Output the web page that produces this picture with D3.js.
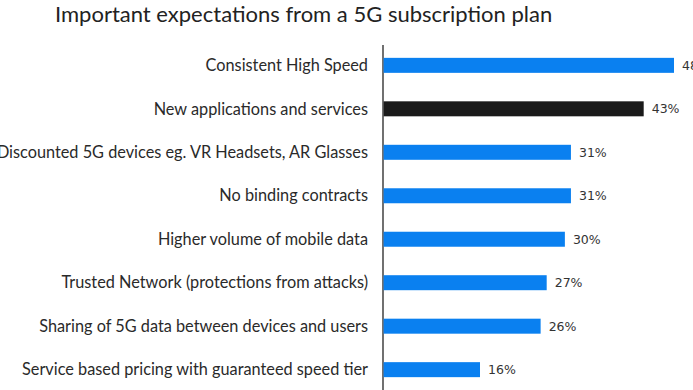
<!DOCTYPE html>
<html><head><meta charset="utf-8">
<script src="https://cdn.jsdelivr.net/npm/d3@7"></script>
<style>body{margin:0;background:#fff;overflow:hidden}</style>
</head><body><svg id="c" width="693" height="390"></svg>
<script>
const categories = ["Consistent High Speed","New applications and services","Discounted 5G devices eg. VR Headsets, AR Glasses","No binding contracts","Higher volume of mobile data","Trusted Network (protections from attacks)","Sharing of 5G data between devices and users","Service based pricing with guaranteed speed tier"];
const values = [48,43,31,31,30,27,26,16];
const highlight = [false,true,false,false,false,false,false,false];
const title = "Important expectations from a 5G subscription plan";

const svg = d3.select("#c");
const x0 = 383;
const x = d3.scaleLinear().domain([0,48]).range([x0,674]);
const y = d3.scaleBand().domain(categories).range([43.5,391.5]).paddingInner(0.655).paddingOuter(0.33);

svg.append("text").attr("x",55).attr("y",21.5).attr("font-family","Lato").attr("font-weight",400)
  .attr("font-size",22).attr("fill","#222").text(title);

svg.append("line").attr("x1",x0).attr("x2",x0).attr("y1",45).attr("y2",390).attr("stroke","#111").attr("stroke-width",1.2);

svg.selectAll("rect.bar").data(categories).enter().append("rect").attr("class","bar")
  .attr("x",x0+0.6).attr("y",d=>y(d)).attr("height",y.bandwidth())
  .attr("width",(d,i)=>x(values[i])-x0-0.6)
  .attr("fill",(d,i)=>highlight[i]?"#1a1a1a":"#0a80f0");

svg.selectAll("text.cat").data(categories).enter().append("text").attr("class","cat")
  .attr("x",368).attr("y",d=>y(d)+y.bandwidth()/2).attr("dy","0.35em").attr("text-anchor","end")
  .attr("font-family","Lato").attr("font-size",16.3).attr("fill","#2a2a2a").text(d=>d);

svg.selectAll("text.val").data(categories).enter().append("text").attr("class","val")
  .attr("x",(d,i)=>x(values[i])+8).attr("y",d=>y(d)+y.bandwidth()/2).attr("dy","0.35em")
  .attr("font-family","DejaVu Sans").attr("font-size",12.5).attr("fill","#333").text((d,i)=>values[i]+"%");
</script></body></html>
